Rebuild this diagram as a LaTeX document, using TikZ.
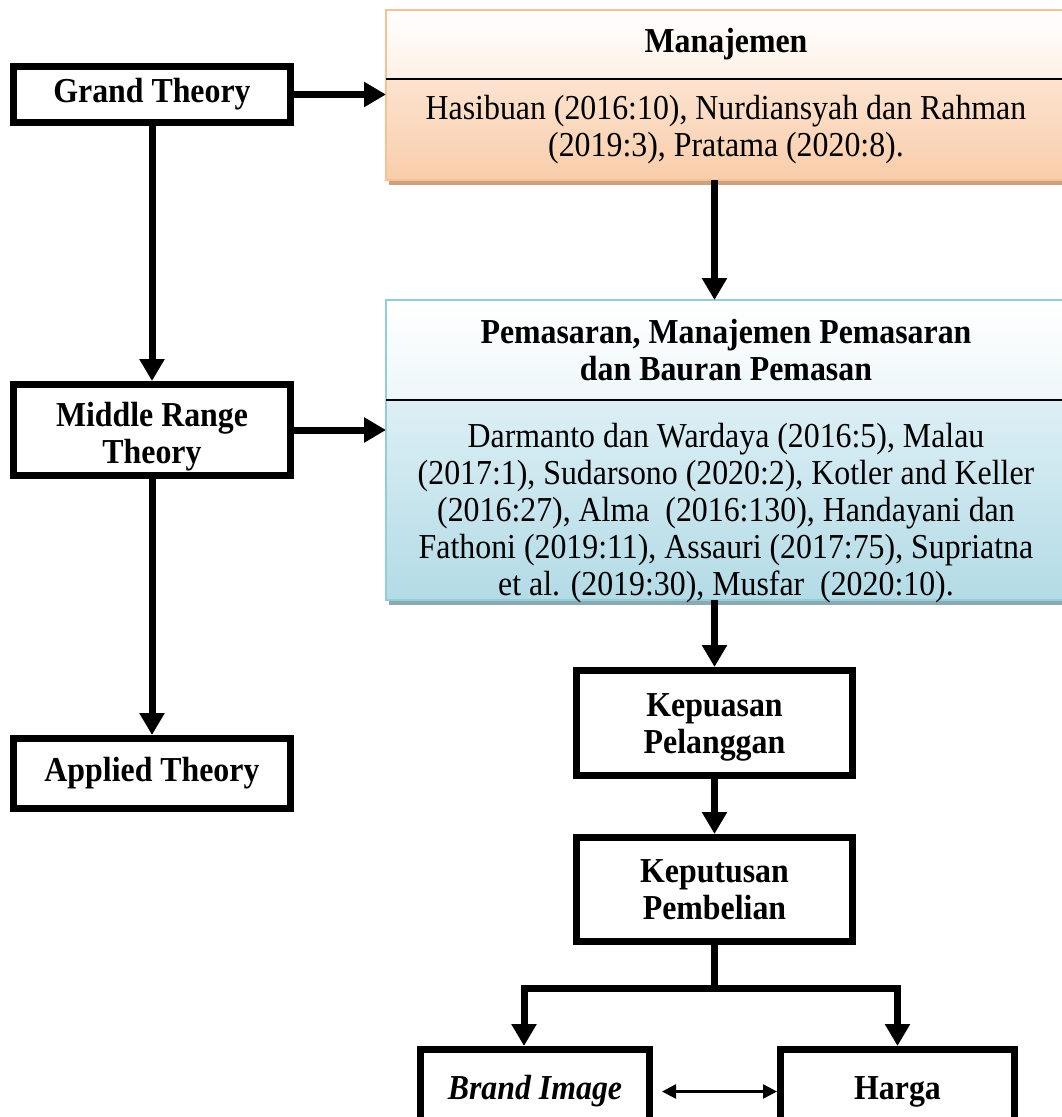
\documentclass[tikz,border=0pt]{standalone}
\usepackage{fontspec}
\setmainfont{Liberation Serif}[FakeStretch=0.91]
\usetikzlibrary{arrows.meta,calc,shadows}

\definecolor{peachline}{HTML}{FAC08F}
\definecolor{peachtop}{HTML}{FEF1E6}
\definecolor{peachmid}{HTML}{FCE3D0}
\definecolor{peachbot}{HTML}{F9CDAA}
\definecolor{peachshadow}{HTML}{C9A286}
\definecolor{blueline}{HTML}{92CDDC}
\definecolor{bluetop}{HTML}{EEF7FA}
\definecolor{bluemid}{HTML}{DDEFF5}
\definecolor{bluebot}{HTML}{B3DBE6}
\definecolor{blueshadow}{HTML}{8DA8AF}

\begin{document}
\begin{tikzpicture}
[every node/.style={inner sep=2pt, align=center, font=\fontsize{35pt}{37pt}\selectfont},
 theorybox/.style={draw=black, line width=7pt, fill=white, font=\fontsize{35pt}{37pt}\selectfont\bfseries},
 listbox/.style={line width=1.5pt, outer sep=0pt, minimum width=680pt},
 thickarrow/.style={line width=7pt, -{Triangle[length=22pt,width=24pt]}},
 bothways/.style={line width=2.5pt, {Triangle[length=14pt,width=14pt]}-{Triangle[length=14pt,width=14pt]}}]
\useasboundingbox (0pt,0pt) rectangle (1062pt,-1117pt);
\clip (0pt,0pt) rectangle (1062pt,-1117pt);
% theory column
\node (grand) [theorybox, minimum width=277pt, minimum height=56pt] at (152pt, -94.5pt) {Grand Theory};
\node (middle) [theorybox, minimum width=277pt, minimum height=91pt] at (152pt, -430pt) {\rule{0pt}{38pt}Middle Range\\Theory};
\node (applied) [theorybox, minimum width=277pt, minimum height=70pt] at (152pt, -773.5pt) {Applied Theory};
% literature boxes
\node (manhead) [listbox, draw=peachline, top color=white, bottom color=peachtop, minimum height=69pt] at (726pt, -44.5pt) {\textbf{Manajemen}};
\node (manbody) [listbox, draw=peachline, top color=peachmid, bottom color=peachbot, minimum height=101pt,
  drop shadow={shadow xshift=3pt, shadow yshift=-5pt, fill=peachshadow, opacity=1}] at (726pt, -129.5pt)
  {Hasibuan (2016:10), Nurdiansyah dan Rahman\\(2019:3), Pratama (2020:8).};
\draw [line width=2pt] (manhead.south west) -- (manhead.south east);
\node (pemhead) [listbox, draw=blueline, top color=white, bottom color=bluetop, minimum height=100pt] at (726pt, -350pt)
  {\textbf{Pemasaran, Manajemen Pemasaran}\\\textbf{dan Bauran Pemasan}};
\node (pembody) [listbox, draw=blueline, top color=bluemid, bottom color=bluebot, minimum height=200pt,
  drop shadow={shadow xshift=3pt, shadow yshift=-5pt, fill=blueshadow, opacity=1}] at (726pt, -500pt)
  {\raisebox{-20pt}[0pt][0pt]{\begin{tabular}{@{}c@{}}Darmanto dan Wardaya (2016:5), Malau\\(2017:1), Sudarsono (2020:2), Kotler and Keller\\(2016:27), Alma~ (2016:130), Handayani dan\\Fathoni (2019:11), Assauri (2017:75), Supriatna\\et al. (2019:30), Musfar~ (2020:10).\end{tabular}}};
\draw [line width=2pt] (pemhead.south west) -- (pemhead.south east);
% variables
\node (kepu) [theorybox, minimum width=276pt, minimum height=105pt] at (714.5pt, -723pt) {\rule{0pt}{32pt}Kepuasan\\Pelanggan};
\node (keput) [theorybox, minimum width=276pt, minimum height=104pt] at (714.5pt, -889.5pt) {Keputusan\\Pembelian};
\node (brand) [theorybox, minimum width=229pt, minimum height=84pt] at (535pt, -1091.5pt) {\textit{Brand Image}};
\node (harga) [theorybox, minimum width=234pt, minimum height=84pt] at (897.5pt, -1091.5pt) {Harga};
% connectors
\draw [thickarrow] (grand.east) -- (grand.east -| manhead.west);
\draw [thickarrow] (grand.south) -- (middle.north);
\draw [thickarrow] (middle.east) -- (middle.east -| pembody.west);
\draw [thickarrow] (middle.south) -- (applied.north);
\draw [thickarrow] (manbody.south -| kepu.north) -- (pemhead.north -| kepu.north);
\draw [thickarrow] (pembody.south -| kepu.north) -- (kepu.north);
\draw [thickarrow] (kepu.south) -- (keput.north);
\coordinate (fork) at ($(keput.south)+(0pt,-43pt)$);
\draw [line width=7pt] (keput.south) -- (fork);
\draw [thickarrow] (fork) -| ([xshift=-11pt]brand.north);
\draw [thickarrow] (fork) -| (harga.north);
\draw [bothways] ([xshift=9pt]brand.east) -- (harga.west);
\end{tikzpicture}
\end{document}
